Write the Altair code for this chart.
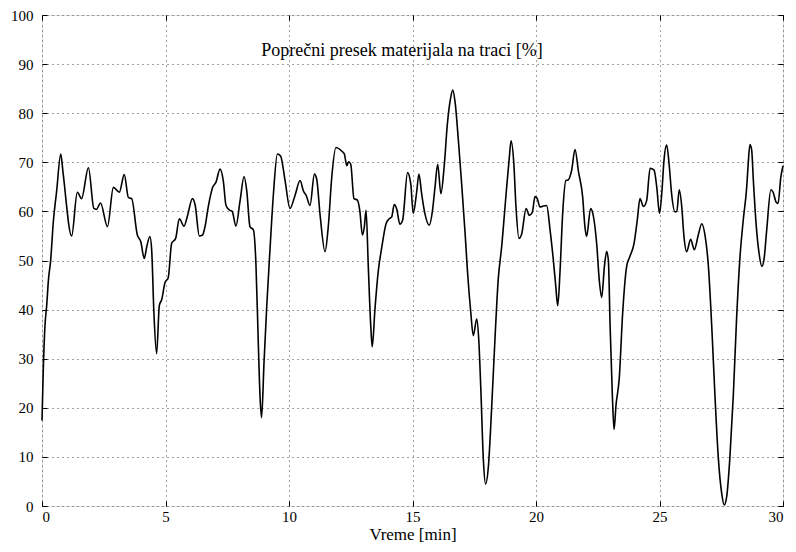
import altair as alt
import pandas as pd

time_min = [0.0, 0.05, 0.12, 0.19, 0.26, 0.35, 0.46, 0.59, 0.76, 0.85, 1.2, 1.43, 1.6, 1.88, 2.1, 2.2, 2.37, 2.65,
            2.89, 3.13, 3.33, 3.5, 3.63, 3.86, 4.0, 4.14, 4.24, 4.37, 4.44, 4.53, 4.64, 4.75, 4.85, 4.98, 5.11, 5.25,
            5.41, 5.56, 5.75, 5.88, 6.09, 6.2, 6.37, 6.5, 6.6, 6.73, 6.91, 7.04, 7.21, 7.34, 7.45, 7.61, 7.7, 7.85,
            8.02, 8.18, 8.29, 8.42, 8.56, 8.66, 8.76, 8.83, 8.89, 8.99, 9.1, 9.23, 9.37, 9.53, 9.66, 9.84, 10.04,
            10.24, 10.45, 10.58, 10.7, 10.85, 11.03, 11.12, 11.26, 11.46, 11.59, 11.73, 11.9, 12.13, 12.24, 12.34,
            12.41, 12.5, 12.63, 12.77, 12.87, 12.97, 13.05, 13.12, 13.21, 13.31, 13.37, 13.48, 13.62, 13.75, 13.93,
            14.06, 14.16, 14.26, 14.36, 14.49, 14.6, 14.8, 14.93, 15.03, 15.17, 15.26, 15.37, 15.5, 15.68, 15.81,
            15.91, 16.02, 16.15, 16.28, 16.41, 16.54, 16.63, 16.73, 16.86, 16.99, 17.13, 17.23, 17.36, 17.46, 17.6,
            17.68, 17.77, 17.87, 17.96, 18.07, 18.21, 18.34, 18.47, 18.61, 18.79, 18.92, 18.99, 19.1, 19.19, 19.31,
            19.42, 19.6, 19.73, 19.85, 19.96, 20.05, 20.16, 20.3, 20.43, 20.57, 20.7, 20.8, 20.88, 20.97, 21.08,
            21.21, 21.3, 21.44, 21.58, 21.72, 21.89, 21.98, 22.05, 22.21, 22.3, 22.46, 22.56, 22.66, 22.77, 22.86,
            22.93, 23.0, 23.09, 23.16, 23.24, 23.37, 23.51, 23.67, 23.8, 23.97, 24.1, 24.21, 24.35, 24.48, 24.62,
            24.78, 24.89, 25.0, 25.1, 25.18, 25.29, 25.4, 25.49, 25.63, 25.7, 25.8, 25.9, 25.99, 26.1, 26.26, 26.41,
            26.57, 26.71, 26.85, 26.98, 27.12, 27.25, 27.38, 27.52, 27.62, 27.72, 27.85, 27.99, 28.12, 28.26, 28.39,
            28.53, 28.59, 28.66, 28.73, 28.8, 28.91, 29.03, 29.14, 29.23, 29.34, 29.51, 29.6, 29.72, 29.8, 29.91, 30.0]

cross_section_pct = [17.4, 27.4, 36.7, 40.8, 46, 50, 58, 64, 71.7, 68, 55, 63.9, 62.6, 68.9, 60.6, 60.4, 61.7, 56.9,
                     64.9, 63.9, 67.5, 62.8, 62.6, 55.2, 53.8, 50.4, 52.8, 54.9, 52.2, 39.4, 31.0, 40.8, 42.1, 45.5,
                     46.5, 53.5, 54.5, 58.5, 57, 58.9, 62.6, 61.3, 55, 55.2, 56.9, 60.9, 64.9, 65.9, 68.6, 66.2, 61.2,
                     60.2, 60, 57, 62.2, 67.1, 64.2, 56.9, 56.2, 49.5, 32.7, 22, 18.0, 29.4, 40.8, 52.2, 63.6, 71.7,
                     71.3, 66.3, 60.6, 63.2, 66.3, 64.2, 63.2, 61.2, 67.6, 66.6, 59.2, 51.8, 56.9, 66.9, 73, 72.3,
                     71.7, 69.3, 70.1, 69.6, 62.6, 62.3, 60, 55.2, 56.9, 60.2, 48.8, 36.7, 32.4, 40.1, 48.1, 52.5,
                     57.5, 58.5, 58.9, 61.4, 60.5, 57.4, 58.2, 67.9, 65.6, 59.6, 64, 67.6, 63.6, 59.6, 57.2, 60.2,
                     64.9, 69.6, 63.6, 69, 77.7, 83, 84.7, 82, 74.3, 65.6, 55.5, 47.5, 39.4, 34.7, 38.1, 34.1, 23.3,
                     9.3, 4.5, 7.9, 20.6, 34.1, 46.1, 52.8, 63.6, 71, 74.4, 69.9, 60.9, 54.5, 55.4, 60.6, 59.2, 59.8,
                     63, 62.6, 60.9, 61.1, 61.2, 56.2, 50.2, 44.8, 40.8, 47.5, 59.6, 66.3, 66.4, 68.3, 72.6, 68.1,
                     62.9, 56.9, 54.9, 60.6, 59.6, 53.2, 46.1, 42.5, 48.8, 51.8, 50, 36.7, 22.7, 15.6, 20.6, 26, 39.4,
                     48.8, 50.8, 53.5, 58.2, 62.6, 61, 62.2, 68.8, 68.4, 64.9, 59.6, 64.2, 70.3, 73.5, 69, 63.6, 59.9,
                     60, 64.4, 61, 54.9, 51.8, 54.3, 52.2, 55.2, 57.5, 54.9, 48.8, 36.1, 22, 9.9, 2.5, 0.2, 1.9, 9.9,
                     22.7, 38.1, 50.8, 58.2, 64.9, 69.6, 73.6, 72.6, 66.3, 57.5, 51.5, 48.8, 50.2, 56.2, 64.4, 63.9,
                     61.9, 61.6, 66.9, 69.3]

x_ticks = [0, 5, 10, 15, 20, 25, 30]
y_ticks = [0, 10, 20, 30, 40, 50, 60, 70, 80, 90, 100]
chart_title = "Poprečni presek materijala na traci [%]"
x_title = "Vreme [min]"

df = pd.DataFrame({"t": time_min, "v": cross_section_pct})
FONT = "Liberation Serif"

xs = alt.Scale(domain=[0, 30], nice=False, zero=False)
ys = alt.Scale(domain=[0, 100], nice=False)

base = alt.Chart(df)

main = base.mark_line(color="black", strokeWidth=1.6, interpolate="monotone").encode(
    x=alt.X("t:Q", scale=xs, axis=alt.Axis(
        orient="bottom", values=x_ticks, title=x_title, domain=False, ticks=False, tickSize=0,
        labelPadding=3, labelFont=FONT, labelFontSize=15, labelColor="black",
        titleFont=FONT, titleFontSize=17, titleFontWeight="normal", titleColor="black", titlePadding=2,
        grid=True, gridColor="#444", gridDash=[1, 4], gridWidth=1, gridOpacity=1)),
    y=alt.Y("v:Q", scale=ys, axis=alt.Axis(
        orient="left", values=y_ticks, title=None, domain=False, ticks=False, tickSize=0,
        labelPadding=9, labelFont=FONT, labelFontSize=15, labelColor="black",
        grid=True, gridColor="#444", gridDash=[1, 4], gridWidth=1, gridOpacity=1)),
)

def tick_layer(xo, yo):
    return base.mark_line(opacity=0).encode(
        x=alt.X("t:Q", scale=xs, axis=alt.Axis(
            orient=xo, offset=-5, values=x_ticks, labels=False, title=None, domain=False,
            ticks=True, tickSize=5, tickColor="black", tickWidth=1, grid=False)),
        y=alt.Y("v:Q", scale=ys, axis=alt.Axis(
            orient=yo, offset=-5, values=y_ticks, labels=False, title=None, domain=False,
            ticks=True, tickSize=5, tickColor="black", tickWidth=1, grid=False)),
    )

title_df = pd.DataFrame({"label": [chart_title]})
title = alt.Chart(title_df).mark_text(
    font=FONT, fontSize=18, color="black", align="center", baseline="alphabetic"
).encode(x=alt.value(360), y=alt.value(41), text="label:N")

chart = alt.layer(main, tick_layer("bottom", "left"), tick_layer("top", "right"), title).resolve_axis(
    x="independent", y="independent"
).properties(
    width=741, height=491,
    autosize=alt.AutoSizeParams(type="none"),
    padding={"left": 34, "top": 7, "right": 5, "bottom": 38},
).configure_axis(
    labelFont=FONT, titleFont=FONT
).configure_view(stroke="black", strokeWidth=1.2).configure(background="white")

chart.save("out.html", embed_options={"renderer": "svg", "actions": False})
